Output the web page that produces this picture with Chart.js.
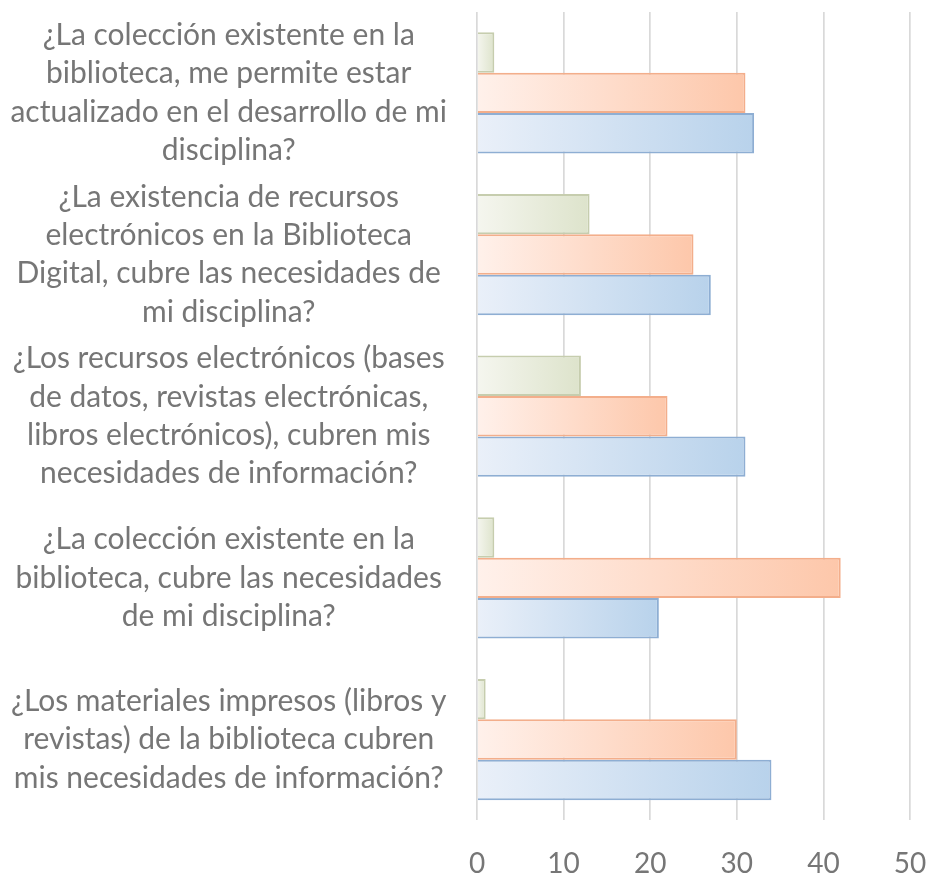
<!DOCTYPE html>
<html>
<head>
<meta charset="utf-8">
<script src="https://cdn.jsdelivr.net/npm/chart.js@4/dist/chart.umd.min.js"></script>
<style>
  html, body { margin: 0; padding: 0; background: #fff; }
  #wrap { width: 926px; height: 874px; }
</style>
</head>
<body>
<div id="wrap"><canvas id="surveyChart"></canvas></div>
<script>
const questions = [
    ['¿La colección existente en la', 'biblioteca, me permite estar', 'actualizado en el desarrollo de mi', 'disciplina?'],
    ['¿La existencia de recursos', 'electrónicos en la Biblioteca', 'Digital, cubre las necesidades de', 'mi disciplina?'],
    ['¿Los recursos electrónicos (bases', 'de datos, revistas electrónicas,', 'libros electrónicos), cubren mis', 'necesidades de información?'],
    ['¿La colección existente en la', 'biblioteca, cubre las necesidades', 'de mi disciplina?'],
    ['¿Los materiales impresos (libros y', 'revistas) de la biblioteca cubren', 'mis necesidades de información?'],
];
const greenValues = [2, 13, 12, 2, 1];
const orangeValues = [31, 25, 22, 42, 30];
const blueValues = [32, 27, 31, 21, 34];
const xTicks = [0, 10, 20, 30, 40, 50];

// gradient per bar, from the axis origin to the bar end
function barGradient(from, to) {
    return (context) => {
        const chart = context.chart;
        const xScale = chart.scales.x;
        if (!xScale || !chart.chartArea || context.raw === undefined) return to;
        const x0 = xScale.getPixelForValue(0);
        const x1 = xScale.getPixelForValue(context.raw);
        if (!isFinite(x0) || !isFinite(x1) || x1 - x0 < 1) return to;
        const g = chart.ctx.createLinearGradient(x0, 0, x1, 0);
        g.addColorStop(0, from);
        g.addColorStop(1, to);
        return g;
    };
}

const ctx = document.getElementById('surveyChart').getContext('2d');

new Chart(ctx, {
    type: 'bar',
    data: {
        labels: questions,
        datasets: [
            {
                label: 'Serie 3',
                data: greenValues,
                backgroundColor: barGradient('#f5f6ef', '#dde3cb'),
                borderColor: '#c6cdae',
                borderWidth: 2,
                borderSkipped: 'left',
            },
            {
                label: 'Serie 2',
                data: orangeValues,
                backgroundColor: barGradient('#fff1eb', '#fdc7aa'),
                borderColor: '#f3ae8b',
                borderWidth: 2,
                borderSkipped: 'left',
            },
            {
                label: 'Serie 1',
                data: blueValues,
                backgroundColor: barGradient('#eaf0f9', '#b8d2eb'),
                borderColor: '#8eaed3',
                borderWidth: 2,
                borderSkipped: 'left',
            },
        ],
    },
    options: {
        indexAxis: 'y',
        responsive: true,
        maintainAspectRatio: false,
        animation: false,
        layout: {
            // negative bottom lets the tick labels sit lower under the plot
            padding: { top: 12, right: 3, bottom: -34, left: 0 },
        },
        categoryPercentage: 0.75,
        barPercentage: 1,
        plugins: {
            legend: { display: false },
            tooltip: { enabled: false },
        },
        scales: {
            x: {
                min: 0,
                max: 50,
                afterBuildTicks: (axis) => {
                    axis.ticks = xTicks.map(v => ({ value: v }));
                },
                afterFit: (axis) => {
                    axis.paddingLeft = 0;
                    axis.paddingRight = 16;
                },
                grid: {
                    color: '#d9d9d9',
                    lineWidth: 1.7,
                    drawTicks: false,
                },
                border: { display: false },
                ticks: {
                    color: '#767676',
                    font: { family: 'Lato', size: 28 },
                    padding: 27,
                },
            },
            y: {
                grid: { display: false, drawTicks: false },
                border: { display: false },
                // tall wrapped labels should not push the plot around
                afterFit: (axis) => {
                    axis.paddingTop = 0;
                    axis.paddingBottom = 0;
                    axis.width = 477;
                },
                ticks: {
                    color: '#767676',
                    font: { family: 'Lato', size: 30, lineHeight: 1.28 },
                    crossAlign: 'center',
                    padding: 30,
                    autoSkip: false,
                },
            },
        },
    },
});
</script>
</body>
</html>
